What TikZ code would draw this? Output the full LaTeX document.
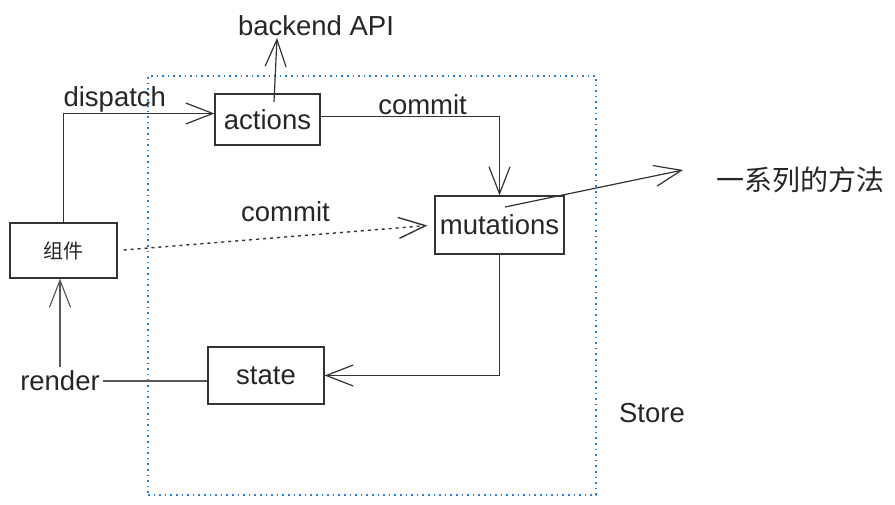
\documentclass[tikz,border=0pt]{standalone}
\usepackage{fontspec}
\setmainfont{Liberation Sans}
\newfontfamily\cjk{Noto Sans CJK SC}
\usepackage{xcolor}
\usetikzlibrary{arrows.meta}
\definecolor{storeblue}{RGB}{38,125,212}

\begin{document}
\begin{tikzpicture}[x=1pt, y=-1pt, font=\fontsize{27.5}{32}\selectfont, text=black!85]
\tikzstyle{block} = [rectangle, draw=black!80, line width=1.2pt, inner sep=0pt]
\tikzstyle{arrow} = [draw=black!80, line width=1.2pt, -{Straight Barb[length=27pt, width=21pt]}]
\tikzstyle{dotarrow} = [arrow, line width=1.4pt, dash pattern=on 3pt off 4pt, shorten <=6pt, shorten >=7pt]
\tikzstyle{frame} = [rectangle, draw=storeblue, line width=1.3pt, dash pattern=on 1.6pt off 4pt, inner sep=0pt]

\useasboundingbox (0,0) rectangle (895,505);

\node (storebox) [frame, minimum width=448pt, minimum height=419pt] at (372,285.5) {};
\node (store) at (652,413) {Store};

\node (actions) [block, minimum width=105pt, minimum height=51pt] at (267.5,119.5) {actions};
\node (mutations) [block, minimum width=129pt, minimum height=58pt] at (499.5,225) {mutations};
\node (comp) [block, minimum width=107pt, minimum height=55pt, font=\cjk\fontsize{20}{24}\selectfont] at (63.5,250.5) {组件};
\node (state) [block, minimum width=116pt, minimum height=57pt] at (266,375.5) {state};

\node (backend) at (316,26) {backend API};
\node (methods) [font=\cjk\fontsize{28}{32}\selectfont] at (800,180) {一系列的方法};
\node (render) at (60,381) {render};
\coordinate (btip) at (277,38);
\coordinate (mtip) at (683,170);

\draw [arrow] (comp.north) |- node[pos=0.67, above, inner sep=1pt] {dispatch} ([yshift=6pt]actions.west);
\draw [arrow] ([yshift=3pt]actions.east) -| node[pos=0.285, above, inner sep=1pt] {commit} (mutations.north);
\draw [dotarrow] (comp.east) -- node[pos=0.53, above=11pt] {commit} (mutations.west);
\draw [arrow] ([xshift=6.5pt, yshift=17.5pt]actions.center) -- (btip);
\draw [arrow] ([xshift=5.5pt, yshift=18pt]mutations.center) -- (mtip);
\draw [arrow] (mutations.south) |- (state.east);
\draw [arrow, draw=black!65] (render.north) -- (render.north |- comp.south);
\draw [draw=black!65, line width=1.2pt] (render.east) -- (render.east -| state.west);

\end{tikzpicture}
\end{document}
